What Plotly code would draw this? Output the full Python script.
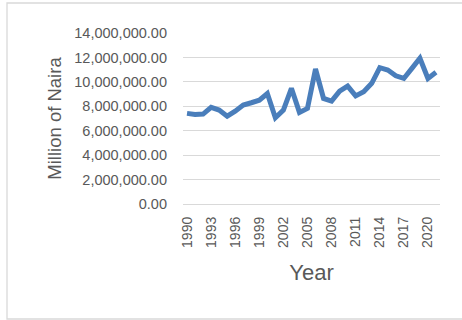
import plotly.graph_objects as go

# Annual values, millions of naira
years = list(range(1990, 2022))
values = [
    7.42e6, 7.33e6, 7.36e6, 7.91e6, 7.69e6, 7.19e6, 7.60e6, 8.10e6,
    8.29e6, 8.50e6, 9.05e6, 7.06e6, 7.69e6, 9.47e6, 7.50e6, 7.83e6,
    11.05e6, 8.64e6, 8.42e6, 9.24e6, 9.65e6, 8.85e6, 9.19e6, 9.88e6,
    11.16e6, 10.97e6, 10.50e6, 10.28e6, 11.10e6, 11.93e6, 10.28e6, 10.78e6,
]
year_ticks = list(range(1990, 2021, 3))
y_ticks = [0, 2e6, 4e6, 6e6, 8e6, 10e6, 12e6, 14e6]

W, H = 462, 320
ML, MR, MT, MB = 183, 22, 33, 116
pw, ph = W - ML - MR, H - MT - MB

font = "Liberation Sans, Arial, sans-serif"
grey = "#595959"

fig = go.Figure(
    go.Scatter(
        x=years,
        y=values,
        mode="lines",
        line=dict(color="#4a7ebb", width=5),
        hoverinfo="x+y",
    )
)

# Outer chart frame
def px_x(v):
    return (v - ML) / pw

def px_y(v):
    return (H - MB - v) / ph

fig.add_shape(
    type="rect", xref="paper", yref="paper",
    x0=px_x(7), x1=px_x(470), y0=px_y(319), y1=px_y(3),
    line=dict(color="#d9d9d9", width=1.3), fillcolor="rgba(0,0,0,0)",
    layer="below",
)

fig.update_layout(
    width=W, height=H,
    margin=dict(l=ML, r=MR, t=MT, b=MB, pad=0),
    paper_bgcolor="white", plot_bgcolor="white",
    showlegend=False,
    font=dict(family=font, color=grey, size=13),
)
fig.update_xaxes(
    range=[1989.5, 2021.5],
    tickvals=year_ticks,
    tickangle=-90,
    showgrid=False, zeroline=False, showline=False,
    ticks="", ticklabelstandoff=9,
    tickfont=dict(size=14, color=grey, family=font),
    title=dict(text="Year", font=dict(size=22, color=grey, family=font), standoff=17),
)
fig.update_yaxes(
    range=[0, 14e6],
    tickvals=y_ticks,
    tickformat=",.2f",
    showgrid=True, gridcolor="#d9d9d9", gridwidth=1.3,
    zeroline=True, zerolinecolor="#d9d9d9", zerolinewidth=1.3,
    showline=False, ticks="", ticklabelstandoff=15,
    tickfont=dict(size=14.5, color=grey, family=font),
    title=dict(text="Million of Naira", font=dict(size=18.5, color=grey, family=font), standoff=7),
)

fig.write_html("out.html")
